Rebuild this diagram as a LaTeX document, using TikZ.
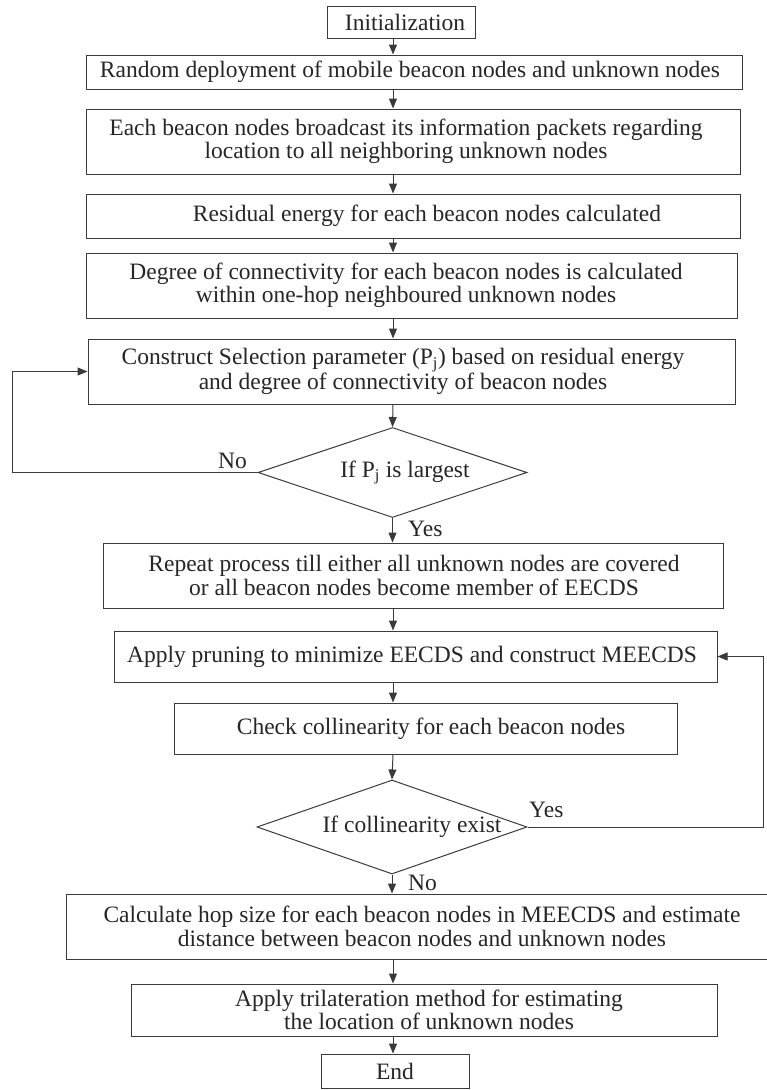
\documentclass[tikz,border=0pt]{standalone}
\usepackage{fontspec}
\setmainfont{Liberation Serif}
\usetikzlibrary{arrows.meta,shapes.geometric}
\definecolor{ink}{HTML}{262626}
\definecolor{edge}{HTML}{3A3A3A}

\begin{document}
\begin{tikzpicture}[x=1pt,y=-1pt,
  every node/.style={font=\fontsize{23.5pt}{23.5pt}\selectfont, text=ink},
  box/.style={draw=edge, line width=1pt, rectangle, inner sep=0pt},
  dec/.style={draw=edge, line width=1pt, diamond, inner sep=0pt},
  txt/.style={align=center, inner sep=0pt},
  lbl/.style={inner sep=0pt, anchor=base west},
  arr/.style={draw=edge, line width=1pt, -{Triangle[length=10pt,width=8pt]}},
]
\useasboundingbox (0,0) rectangle (766,1090);

% main flow axis
\coordinate (ax) at (393,0);

% process boxes
\node[box, minimum width=148pt, minimum height=32pt] (b0) at (401,22) {};
\node[box, minimum width=656pt, minimum height=34pt] (b1) at (414,72) {};
\node[box, minimum width=654pt, minimum height=65pt] (b2) at (413,141.5) {};
\node[box, minimum width=654pt, minimum height=44pt] (b3) at (413,216) {};
\node[box, minimum width=651pt, minimum height=65pt] (b4) at (411.5,285.5) {};
\node[box, minimum width=647pt, minimum height=65pt] (b5) at (411.5,371.5) {};
\node[dec, minimum width=269pt, minimum height=90pt] (d1) at (392.5,472.5) {};
\node[box, minimum width=620pt, minimum height=65pt] (b6) at (413,575.5) {};
\node[box, minimum width=603pt, minimum height=51pt] (b7) at (415.5,656.5) {};
\node[box, minimum width=503pt, minimum height=51pt] (b8) at (425.5,728.5) {};
\node[dec, minimum width=270pt, minimum height=94pt] (d2) at (392,827) {};
\node[box, minimum width=702pt, minimum height=65pt] (b9) at (417,926.5) {};
\node[box, minimum width=586pt, minimum height=52pt] (b10) at (424,1010) {};
\node[box, minimum width=148pt, minimum height=34pt] (b11) at (395,1071) {};

% box texts
\node[txt] (t0) at (405,22) {Initialization};
\node[txt] (t1) at (410,72) {Random deployment of mobile beacon nodes and unknown nodes};
\node[txt] (t2) at (406,141.5) {Each beacon nodes broadcast its information packets regarding\\location to all neighboring unknown nodes};
\node[txt] (t3) at (427,216) {Residual energy for each beacon nodes calculated};
\node[txt] (t4) at (406,285.5) {Degree of connectivity for each beacon nodes is calculated\\within one-hop neighboured unknown nodes};
\node[txt] (t5) at (403,371.5) {Construct Selection parameter (P\textsubscript{j}) based on residual energy\\and degree of connectivity of beacon nodes};
\node[txt] (td1) at (405,472.5) {If P\textsubscript{j} is largest};
\node[txt] (t6) at (414,575.5) {Repeat process till either all unknown nodes are covered\\or all beacon nodes become member of EECDS};
\node[txt] (t7) at (412,656.5) {Apply pruning to minimize EECDS and construct MEECDS};
\node[txt] (t8) at (431,728.5) {Check collinearity for each beacon nodes};
\node[txt] (td2) at (412,827) {If collinearity exist};
\node[txt] (t9) at (422,926.5) {Calculate hop size for each beacon nodes in MEECDS and estimate\\distance between beacon nodes and unknown nodes};
\node[txt] (t10) at (429,1010) {Apply trilateration method for estimating\\the location of unknown nodes};
\node[txt] (t11) at (395,1071) {End};

% branch labels
\node[lbl] (no1) at (218,468) {No};
\node[lbl] (yes1) at (408,536) {Yes};
\node[lbl] (yes2) at (529,817) {Yes};
\node[lbl] (no2) at (408,890) {No};

% main flow connectors
\draw[arr] (b0.south -| ax) -- (b1.north -| ax);
\draw[arr] (b1.south -| ax) -- (b2.north -| ax);
\draw[arr] (b2.south -| ax) -- (b3.north -| ax);
\draw[arr] (b3.south -| ax) -- (b4.north -| ax);
\draw[arr] (b4.south -| ax) -- (b5.north -| ax);
\draw[arr] (b5.south -| ax) -- (d1.north);
\draw[arr] (d1.south) -- (b6.north -| d1.south);
\draw[arr] (b6.south -| ax) -- (b7.north -| ax);
\draw[arr] (b7.south -| ax) -- (b8.north -| ax);
\draw[arr] (b8.south -| ax) -- (d2.north);
\draw[arr] (d2.south) -- (b9.north -| d2.south);
\draw[arr] (b9.south -| ax) -- (b10.north -| ax);
\draw[arr] (b10.south -| ax) -- (b11.north -| ax);

% feedback loops
\coordinate (fl) at (12,472.5);
\draw[arr] (d1.west) -- (fl) |- (b5.west);
\coordinate (fr) at (763,827);
\draw[arr] (d2.east) -- (fr) |- (b7.east);
\end{tikzpicture}
\end{document}
